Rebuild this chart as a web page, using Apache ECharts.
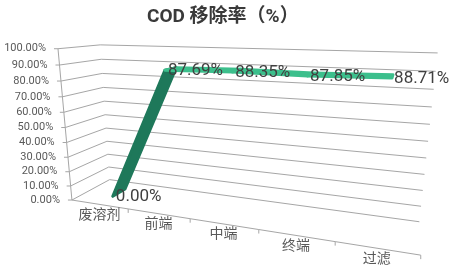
<!DOCTYPE html>
<html>
<head>
<meta charset="utf-8">
<script src="https://cdn.jsdelivr.net/npm/echarts@6/dist/echarts.min.js"></script>
<style>
html,body{margin:0;padding:0;background:#ffffff;}
#c{width:454px;height:276px;}
</style>
</head>
<body>
<div id="c"></div>
<script>
// ---------------- data ----------------
const chartTitle = 'COD 移除率（%）';
const categories = ['废溶剂', '前端', '中端', '终端', '过滤'];
const removalRate = [0, 87.69, 88.35, 87.85, 88.71];
const valueTicks = [0, 10, 20, 30, 40, 50, 60, 70, 80, 90, 100];

// ---------------- styling ----------------
const FONT = 'Roboto, "Noto Sans CJK SC", sans-serif';
const GRID_COLOR = '#a6a6a6';
const AXIS_TEXT = '#595959';
const LABEL_TEXT = '#404040';
const LIGHT_GREEN = '#3cbf8c';
const DARK_GREEN = '#1e785a';
const RIB_D0 = 0.35, RIB_D1 = 0.70;   // ribbon depth range inside the box
const RIB_EDGE = 3;
const LABEL_D = 0.38;

// 3D box corners (u along categories, h along values, d into depth) -> screen,
// used to fit the perspective camera of the plot box.
const boxCalibration = [
  [0, 0, 0, 72, 199], [0.2, 0, 0, 128, 208], [0.4, 0, 0, 190, 218.5],
  [0.6, 0, 0, 259, 230], [0.8, 0, 0, 335, 242], [1, 0, 0, 421, 256],
  [0, 1, 0, 58, 49], [0, 0.5, 0, 65.3, 128],
  [0, 0, 1, 110, 182], [0, 0.5, 1, 105, 113], [0, 1, 1, 100, 45],
  [1, 0, 1, 419, 221], [1, 0.5, 1, 428, 140], [1, 1, 1, 438, 54]
];

function fitCamera(pts) {
  const rows = [], rhs = [];
  for (const [X, Y, Z, sx, sy] of pts) {
    const x = sx / 100, y = sy / 100;
    rows.push([X, Y, Z, 1, 0, 0, 0, 0, -x * X, -x * Y, -x * Z]); rhs.push(x);
    rows.push([0, 0, 0, 0, X, Y, Z, 1, -y * X, -y * Y, -y * Z]); rhs.push(y);
  }
  const n = 11;
  const N = [];
  for (let i = 0; i < n; i++) N.push(new Array(n + 1).fill(0));
  for (let r = 0; r < rows.length; r++) {
    for (let i = 0; i < n; i++) {
      for (let j = 0; j < n; j++) N[i][j] += rows[r][i] * rows[r][j];
      N[i][n] += rows[r][i] * rhs[r];
    }
  }
  for (let c = 0; c < n; c++) {
    let p = c;
    for (let r = c + 1; r < n; r++) if (Math.abs(N[r][c]) > Math.abs(N[p][c])) p = r;
    const t = N[c]; N[c] = N[p]; N[p] = t;
    for (let r = 0; r < n; r++) {
      if (r === c) continue;
      const f = N[r][c] / N[c][c];
      for (let k = c; k <= n; k++) N[r][k] -= f * N[c][k];
    }
  }
  return N.map((row, i) => row[n] / row[i]);
}
const M = fitCamera(boxCalibration);
function proj(u, h, d) {
  const w = M[8] * u + M[9] * h + M[10] * d + 1;
  return [100 * (M[0] * u + M[1] * h + M[2] * d + M[3]) / w,
          100 * (M[4] * u + M[5] * h + M[6] * d + M[7]) / w];
}
// normalised box coordinates from the library's own scales
function norm(params, api, cat, val) {
  const cs = params.coordSys;
  const p = api.coord([cat, val]);
  return [(p[0] - cs.x) / cs.width, (cs.y + cs.height - p[1]) / cs.height];
}
function halfBand(params, api) {
  return api.size([1, 0])[0] / 2 / params.coordSys.width;
}

const chart = echarts.init(document.getElementById('c'), null, { renderer: 'canvas' });

const option = {
  animation: false,
  backgroundColor: '#ffffff',
  title: {
    text: chartTitle, left: 142, top: 3,
    textStyle: { fontSize: 19, fontWeight: 'bold', color: '#3a3a3a', fontFamily: FONT }
  },
  grid: { left: 0, right: 0, top: 0, bottom: 0, show: false },
  xAxis: { type: 'category', data: categories, show: false, boundaryGap: true },
  yAxis: { type: 'value', min: 0, max: 100, interval: 10, show: false },
  series: [
    { // walls: side + back gridlines, value axis ticks and labels
      type: 'custom', z: 1, silent: true,
      data: valueTicks.map(v => [0, v]),
      encode: { x: 0, y: 1 },
      renderItem(params, api) {
        const v = api.value(1);
        const h = norm(params, api, 0, v)[1];
        const uL = norm(params, api, 0, v)[0] - halfBand(params, api);
        const uR = norm(params, api, categories.length - 1, v)[0] + halfBand(params, api);
        const f = proj(uL, h, 0), b = proj(uL, h, 1), r = proj(uR, h, 1);
        const children = [
          { type: 'polyline', shape: { points: [f, b, r] }, style: { stroke: GRID_COLOR, lineWidth: 1, fill: null } },
          { type: 'line', shape: { x1: f[0] - 4, y1: f[1], x2: f[0], y2: f[1] }, style: { stroke: GRID_COLOR, lineWidth: 1 } },
          { type: 'text', x: f[0] - 12, y: f[1],
            style: { text: v.toFixed(2) + '%', fill: AXIS_TEXT, font: '11px ' + FONT, align: 'right', verticalAlign: 'middle' } }
        ];
        if (v === valueTicks[valueTicks.length - 1]) {
          const top = proj(uL, h, 0);
          const h0 = norm(params, api, 0, valueTicks[0])[1];
          const bot = proj(uL, h0, 0);
          children.push({ type: 'line', shape: { x1: top[0], y1: top[1], x2: bot[0], y2: bot[1] }, style: { stroke: GRID_COLOR, lineWidth: 1 } });
        }
        return { type: 'group', children };
      }
    },
    { // category axis on the front floor edge
      type: 'custom', z: 2, silent: true,
      data: categories.map((c, i) => [i, 0]),
      encode: { x: 0, y: 1 },
      renderItem(params, api) {
        const i = api.value(0);
        const p = norm(params, api, i, 0);
        const hb = halfBand(params, api);
        const a = proj(p[0] - hb, p[1], 0), b = proj(p[0] + hb, p[1], 0), c = proj(p[0], p[1], 0);
        return { type: 'group', children: [
          { type: 'line', shape: { x1: a[0], y1: a[1], x2: b[0], y2: b[1] }, style: { stroke: GRID_COLOR, lineWidth: 1 } },
          { type: 'line', shape: { x1: b[0], y1: b[1], x2: b[0], y2: b[1] + 4 }, style: { stroke: GRID_COLOR, lineWidth: 1 } },
          { type: 'text', x: c[0], y: c[1] + 11,
            style: { text: categories[i], fill: AXIS_TEXT, font: '14px ' + FONT, align: 'center', verticalAlign: 'middle' } }
        ] };
      }
    },
    { // 3D line ribbon
      type: 'custom', z: 3, silent: true,
      data: removalRate.map((v, i) => [i, v, i > 0 ? removalRate[i - 1] : v]),
      encode: { x: 0, y: 1 },
      renderItem(params, api) {
        const i = api.value(0);
        if (i === 0) return null;
        const a = norm(params, api, i - 1, api.value(2));
        const b = norm(params, api, i, api.value(1));
        const slope = Math.abs(b[1] - a[1]) / Math.abs(b[0] - a[0]);
        const col = slope > 1 ? DARK_GREEN : LIGHT_GREEN;
        const pts = [proj(a[0], a[1], RIB_D0), proj(b[0], b[1], RIB_D0), proj(b[0], b[1], RIB_D1), proj(a[0], a[1], RIB_D1)];
        return { type: 'polygon', z2: slope > 1 ? 1 : 2, shape: { points: pts },
          style: { fill: col, stroke: col, lineWidth: RIB_EDGE, lineJoin: 'round' } };
      }
    },
    { // data labels
      type: 'custom', z: 4, silent: true,
      data: removalRate.map((v, i) => [i, v]),
      encode: { x: 0, y: 1 },
      renderItem(params, api) {
        const v = api.value(1);
        const p = norm(params, api, api.value(0), v);
        const s = proj(p[0], p[1], LABEL_D);
        return { type: 'text', x: s[0] + 2, y: s[1] + 1,
          style: { text: v.toFixed(2) + '%', fill: LABEL_TEXT, font: '17px ' + FONT, align: 'left', verticalAlign: 'middle' } };
      }
    }
  ]
};
chart.setOption(option);
</script>
</body>
</html>
